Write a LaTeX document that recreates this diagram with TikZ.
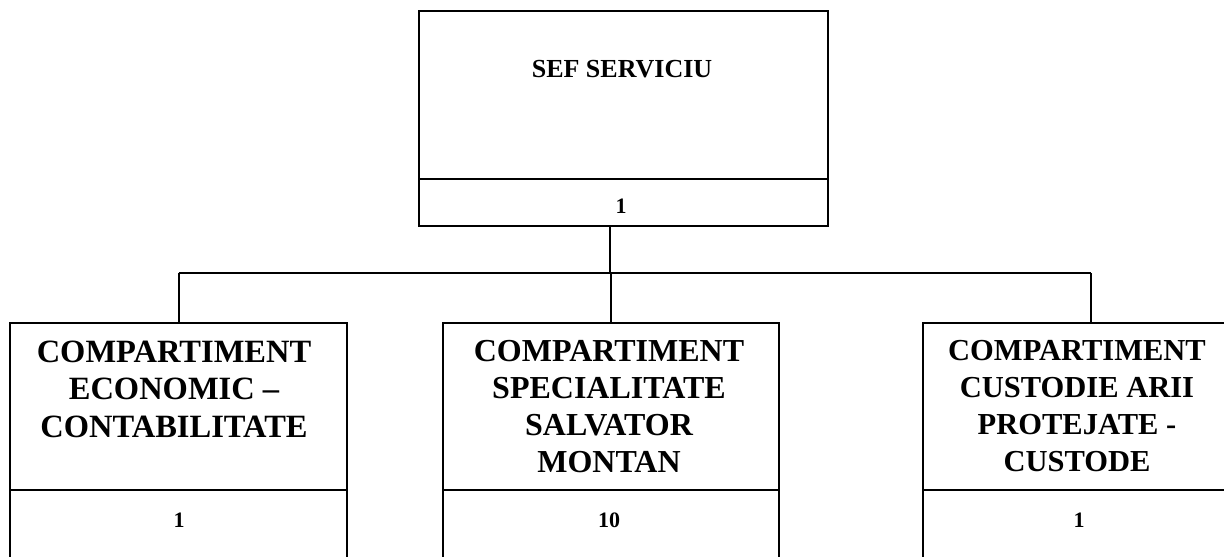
\documentclass[tikz,border=0pt]{standalone}
\usepackage{fontspec}
\setmainfont{Liberation Serif}
\begin{document}
\begin{tikzpicture}[x=1pt,y=-1pt,
  cell/.style={draw, line width=2.2pt, inner sep=0pt, anchor=north west},
  lbl/.style={inner sep=0pt, font=\bfseries, align=center},
  conn/.style={line width=2.2pt}]
\useasboundingbox (0,0) rectangle (1224,557);
\clip (0,0) rectangle (1224,557);
% top box
\node[cell, minimum width=409pt, minimum height=168pt] (sefname) at (418,10) {};
\node[cell, minimum width=409pt, minimum height=47pt] (sefcount) at (418,178) {};
\node[lbl, anchor=base, font=\bfseries\fontsize{26}{30}\selectfont] (seftext) at (622,77) {SEF SERVICIU};
\node[lbl, anchor=base, font=\bfseries\fontsize{22}{26}\selectfont] (sefnum) at (621,213) {1};
% bottom boxes
\node[cell, minimum width=337pt, minimum height=167pt] (ecname) at (9,322) {};
\node[cell, minimum width=337pt, minimum height=80pt] (eccount) at (9,489) {};
\node[cell, minimum width=336pt, minimum height=167pt] (spname) at (442,322) {};
\node[cell, minimum width=336pt, minimum height=80pt] (spcount) at (442,489) {};
\node[cell, minimum width=336pt, minimum height=167pt] (cuname) at (922,322) {};
\node[cell, minimum width=336pt, minimum height=80pt] (cucount) at (922,489) {};
% texts
\node[lbl, anchor=north, font=\bfseries\fontsize{32.5}{37.5}\selectfont] (ectext) at (174,340.5)
  {COMPARTIMENT\\ECONOMIC –\\CONTABILITATE};
\node[lbl, anchor=north, font=\bfseries\fontsize{32}{37}\selectfont] (sptext) at (609,340.5)
  {COMPARTIMENT\\SPECIALITATE\\SALVATOR\\MONTAN};
\node[lbl, anchor=north, font=\bfseries\fontsize{30.5}{36.7}\selectfont] (cutext) at (1077,340.5)
  {COMPARTIMENT\\CUSTODIE ARII\\PROTEJATE -\\CUSTODE};
\node[lbl, anchor=base, font=\bfseries\fontsize{22}{26}\selectfont] (ecnum) at (179,527) {1};
\node[lbl, anchor=base, font=\bfseries\fontsize{22}{26}\selectfont] (spnum) at (609,527) {10};
\node[lbl, anchor=base, font=\bfseries\fontsize{22}{26}\selectfont] (cunum) at (1079,527) {1};
% connectors
\coordinate (bus) at (610,273);
\draw[conn] (sefcount.south -| bus) -- (bus);
\draw[conn] (ecname.north |- bus) -- (cuname.north |- bus);
\draw[conn] (ecname.north |- bus) -- (ecname.north);
\draw[conn] (spname.north |- bus) -- (spname.north);
\draw[conn] (cuname.north |- bus) -- (cuname.north);
\end{tikzpicture}
\end{document}
